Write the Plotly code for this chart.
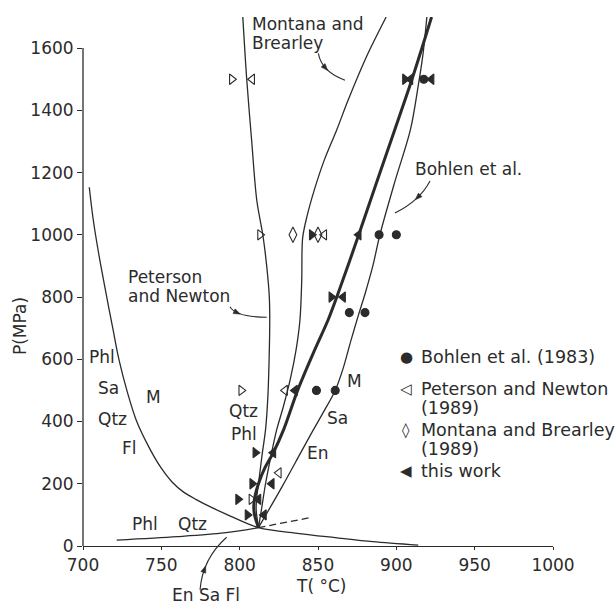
import numpy as np
import plotly.graph_objects as go

# ---------------------------------------------------------------- data
# phase boundaries, T in degC and P in MPa
melt_T = [704, 706.5, 710, 715.5, 719, 723, 728, 734.3, 743, 750, 757, 764, 772, 782, 792, 812, 838, 861, 885, 914]
melt_P = [1153, 1050, 940, 791, 700, 598, 500, 400, 309, 250, 205, 174, 150, 124, 101, 59, 40, 27, 14, 3]

dehyd_T = [721.5, 760, 790, 812]
dehyd_P = [19, 30, 42, 59]

meta_T = [812, 846]
meta_P = [59, 92]

pn_T = [812, 810.5, 811, 812, 814.5, 816.5, 818, 818.8, 819.2, 819, 818.3, 815.1, 810.9, 807.7, 804.5, 802]
pn_P = [59, 120, 160, 200, 300, 373, 480, 600, 727, 791, 845, 989, 1112, 1300, 1500, 1700]

mb_T = [812, 814, 816.5, 820, 823.6, 828, 832.5, 836, 838.5, 839.6, 840.2, 843, 848, 854, 862, 869, 881, 893.5]
mb_P = [59, 120, 200, 290, 373, 450, 540, 630, 727, 850, 990, 1060, 1150, 1240, 1338, 1430, 1573, 1700]

tw_T = [812, 809.5, 809, 810, 812, 816, 821.5, 828, 837, 847, 856.5, 862, 876, 887.5, 899, 910, 922.5]
tw_P = [59, 100, 130, 165, 200, 250, 300, 373, 500, 620, 727, 800, 1000, 1170, 1338, 1500, 1700]

bo_T = [812, 827, 839, 847, 854, 861, 866, 871, 876, 880, 885, 889.5, 899, 909, 914, 917, 919.5]
bo_P = [59, 190, 300, 373, 435, 500, 570, 660, 745, 810, 900, 1000, 1170, 1338, 1480, 1580, 1700]

# experimental brackets
bohlen_T = [849, 861, 870, 880, 889, 900, 917.5]
bohlen_P = [500, 500, 750, 750, 1000, 1000, 1500]

pn_left_T = [829, 825, 854, 808]
pn_left_P = [500, 235, 1000, 1500]
pn_right_T = [801, 807.5, 813, 795]
pn_right_P = [500, 150, 1000, 1500]

mb_pts_T = [834, 850]
mb_pts_P = [1000, 1000]

tw_left_T = [815.5, 812, 820.5, 821.5, 835.3, 866, 876, 909, 922.5]
tw_left_P = [100, 150, 200, 300, 500, 800, 1000, 1500, 1500]
tw_right_T = [805, 799, 808, 810, 858.5, 846, 905.5]
tw_right_P = [100, 150, 200, 300, 800, 1000, 1500]

x_ticks = [700, 750, 800, 850, 900, 950, 1000]
y_ticks = [0, 200, 400, 600, 800, 1000, 1200, 1400, 1600]

# ---------------------------------------------------------------- frame
W, H = 615, 604
M_L, M_R, M_T, M_B = 83, 62, 17, 58
PW, PH = W - M_L - M_R, H - M_T - M_B
T_MIN, T_MAX = 700, 1000
P_MIN, P_MAX = 0, 1700

INK = "#2b2b2b"
FONT = "DejaVu Sans"


def to_px(T, P):
    return (M_L + (T - T_MIN) / (T_MAX - T_MIN) * PW,
            M_T + (P_MAX - P) / (P_MAX - P_MIN) * PH)


def px_to_paper(x, y):
    return (x - M_L) / PW, 1 - (y - M_T) / PH


def to_paper(T, P):
    return px_to_paper(*to_px(T, P))


fig = go.Figure()


def curve(T, P, width=1.3, dash="solid", smooth=True):
    fig.add_trace(go.Scatter(
        x=T, y=P, mode="lines", hoverinfo="skip", showlegend=False,
        line=dict(color=INK, width=width, dash=dash,
                  shape="spline" if smooth else "linear", smoothing=0.9)))


curve(melt_T, melt_P)
curve(dehyd_T, dehyd_P)
curve(meta_T, meta_P, dash="7px,4px", smooth=False)
curve(pn_T, pn_P)
curve(mb_T, mb_P)
curve(bo_T, bo_P)
curve(tw_T, tw_P, width=3)


def points(T, P, symbol, size):
    fig.add_trace(go.Scatter(
        x=T, y=P, mode="markers", hoverinfo="skip", showlegend=False,
        cliponaxis=False,
        marker=dict(symbol=symbol, size=size, color=INK,
                    line=dict(color=INK, width=1.1))))


points(bohlen_T, bohlen_P, "circle", 8)
points(pn_left_T, pn_left_P, "triangle-left-open", 9)
points(pn_right_T, pn_right_P, "triangle-right-open", 9)
points(mb_pts_T, mb_pts_P, "diamond-tall-open", 11)
points(tw_left_T, tw_left_P, "triangle-left", 9)
points(tw_right_T, tw_right_P, "triangle-right", 9)

# ---------------------------------------------------------------- labels
annotations = []


def label(text, T, P, size=17, xanchor="center", angle=0):
    x, y = to_paper(T, P)
    annotations.append(dict(
        x=x, y=y, xref="paper", yref="paper", text=text, showarrow=False,
        xanchor=xanchor, yanchor="middle", textangle=angle,
        font=dict(family=FONT, size=size, color=INK)))


label("Montana and", 806.6, 1678, xanchor="left")
label("Brearley", 806.6, 1616, xanchor="left")
label("Bohlen et al.", 910.6, 1213, xanchor="left")
label("Peterson", 727.4, 865, xanchor="left")
label("and Newton", 727.4, 803, xanchor="left")

label("Phl", 712.4, 608)
label("Sa", 716, 508)
label("Qtz", 719, 408)
label("Fl", 729.7, 315)
label("M", 744.9, 479)

label("Qtz", 802.6, 434)
label("Phl", 803, 360)

label("Phl", 739.6, 71)
label("Qtz", 769.6, 71)
label("En Sa Fl", 778.8, -157)

label("M", 873.3, 530)
label("Sa", 862.3, 411)
label("En", 849.7, 299)

# key
key_x_sym = 906.2
key_x_txt = 914.5
key_rows = [
    ("\u25cf", "Bohlen et al. (1983)", 608),
    ("\u25c1", "Peterson and Newton", 505),
    (None, "(1989)", 445),
    ("\u25ca", "Montana and Brearley", 373),
    (None, "(1989)", 313),
    ("\u25c0", "this work", 241),
]
for sym, txt, P in key_rows:
    if sym:
        label(sym, key_x_sym, P, size=15)
    label(txt, key_x_txt, P, size=17.5, xanchor="left")

# axis titles
label("P(MPa)", 659.8, 707, angle=-90)
label("T( \u00b0C)", 851.9, -128)

# ---------------------------------------------------------------- leader lines
shapes = []


def leader(p0, c, p1, t_arrow):
    a = np.array(to_px(*p0))
    b = np.array(to_px(*c))
    e = np.array(to_px(*p1))
    pa, pb, pe = px_to_paper(*a), px_to_paper(*b), px_to_paper(*e)
    shapes.append(dict(
        type="path", xref="paper", yref="paper",
        path=f"M {pa[0]},{pa[1]} Q {pb[0]},{pb[1]} {pe[0]},{pe[1]}",
        line=dict(color=INK, width=1.1)))
    t = t_arrow
    pt = (1 - t) ** 2 * a + 2 * (1 - t) * t * b + t ** 2 * e
    tan = 2 * (1 - t) * (b - a) + 2 * t * (e - b)
    tan = tan / np.linalg.norm(tan)
    nrm = np.array([-tan[1], tan[0]])
    tip = pt + tan * 3.5
    b1 = pt - tan * 3.5 + nrm * 2.6
    b2 = pt - tan * 3.5 - nrm * 2.6
    q = [px_to_paper(*v) for v in (tip, b1, b2)]
    shapes.append(dict(
        type="path", xref="paper", yref="paper",
        path=f"M {q[0][0]},{q[0][1]} L {q[1][0]},{q[1][1]} L {q[2][0]},{q[2][1]} Z",
        fillcolor=INK, line=dict(color=INK, width=0.5)))


leader((850.2, 1583), (852.4, 1524), (867.2, 1497), 0.45)
leader((921.5, 1173), (914.8, 1109), (899.1, 1070), 0.45)
leader((793.8, 769), (797.7, 736), (817.3, 735), 0.35)
leader((774.7, -141), (776.4, -40), (791.7, 28), 0.35)

# left axis line stops at the last tick
shapes.append(dict(type="line", xref="paper", yref="paper",
                   x0=0, x1=0, y0=0, y1=1600 / P_MAX,
                   line=dict(color=INK, width=1.3)))

fig.update_layout(
    width=W, height=H,
    margin=dict(l=M_L, r=M_R, t=M_T, b=M_B, pad=0),
    paper_bgcolor="white", plot_bgcolor="white",
    showlegend=False,
    annotations=annotations, shapes=shapes,
    font=dict(family=FONT, size=17, color=INK),
    xaxis=dict(range=[T_MIN, T_MAX], tickvals=x_ticks, showgrid=False, zeroline=False,
               showline=True, linecolor=INK, linewidth=1.3,
               ticks="outside", ticklen=3, tickcolor=INK, tickwidth=1,
               tickfont=dict(family=FONT, size=17, color=INK)),
    yaxis=dict(range=[P_MIN, P_MAX], tickvals=y_ticks, showgrid=False, zeroline=False,
               showline=False,
               ticks="outside", ticklen=5, tickcolor=INK, tickwidth=1,
               tickfont=dict(family=FONT, size=17, color=INK)),
)

fig.write_html("out.html")
